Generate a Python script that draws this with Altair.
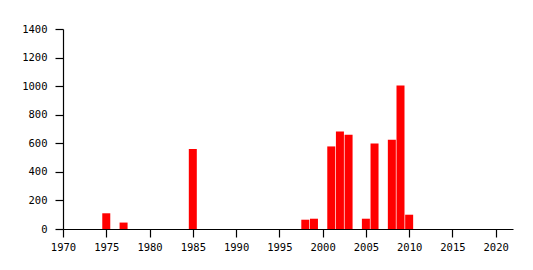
import altair as alt
import pandas as pd

years = [1975, 1977, 1985, 1998, 1999, 2001, 2002, 2003, 2005, 2006, 2008, 2009, 2010]
values = [110, 45, 560, 65, 72, 578, 683, 660, 72, 598, 625, 1005, 100]
x_ticks = list(range(1970, 2021, 5))
y_ticks = list(range(0, 1401, 200))

df = pd.DataFrame({"year": years, "value": values})

font = "DejaVu Sans Mono"

chart = alt.Chart(df).mark_bar(color="#ff0000", size=8).encode(
    x=alt.X("year:Q",
            scale=alt.Scale(domain=[1970, 2022], nice=False, zero=False, padding=0),
            axis=alt.Axis(values=x_ticks, format="d", title=None, grid=False,
                          domainColor="black", tickColor="black", tickSize=8,
                          labelColor="black", labelFont=font, labelFontSize=10.5,
                          labelPadding=5, labelFlush=False)),
    y=alt.Y("value:Q",
            scale=alt.Scale(domain=[0, 1400], nice=False, padding=0),
            axis=alt.Axis(values=y_ticks, format="d", title=None, grid=False,
                          domainColor="black", tickColor="black", tickSize=8,
                          labelColor="black", labelFont=font, labelFontSize=10.5,
                          labelPadding=8)),
).properties(
    width=450, height=200,
    autosize=alt.AutoSizeParams(type="none"),
    padding={"left": 63, "top": 29, "right": 20, "bottom": 41},
).configure_view(stroke=None).configure_axis(domainWidth=1.2, tickWidth=1.2)

chart.save("out.html", embed_options={"renderer": "svg", "actions": False})
